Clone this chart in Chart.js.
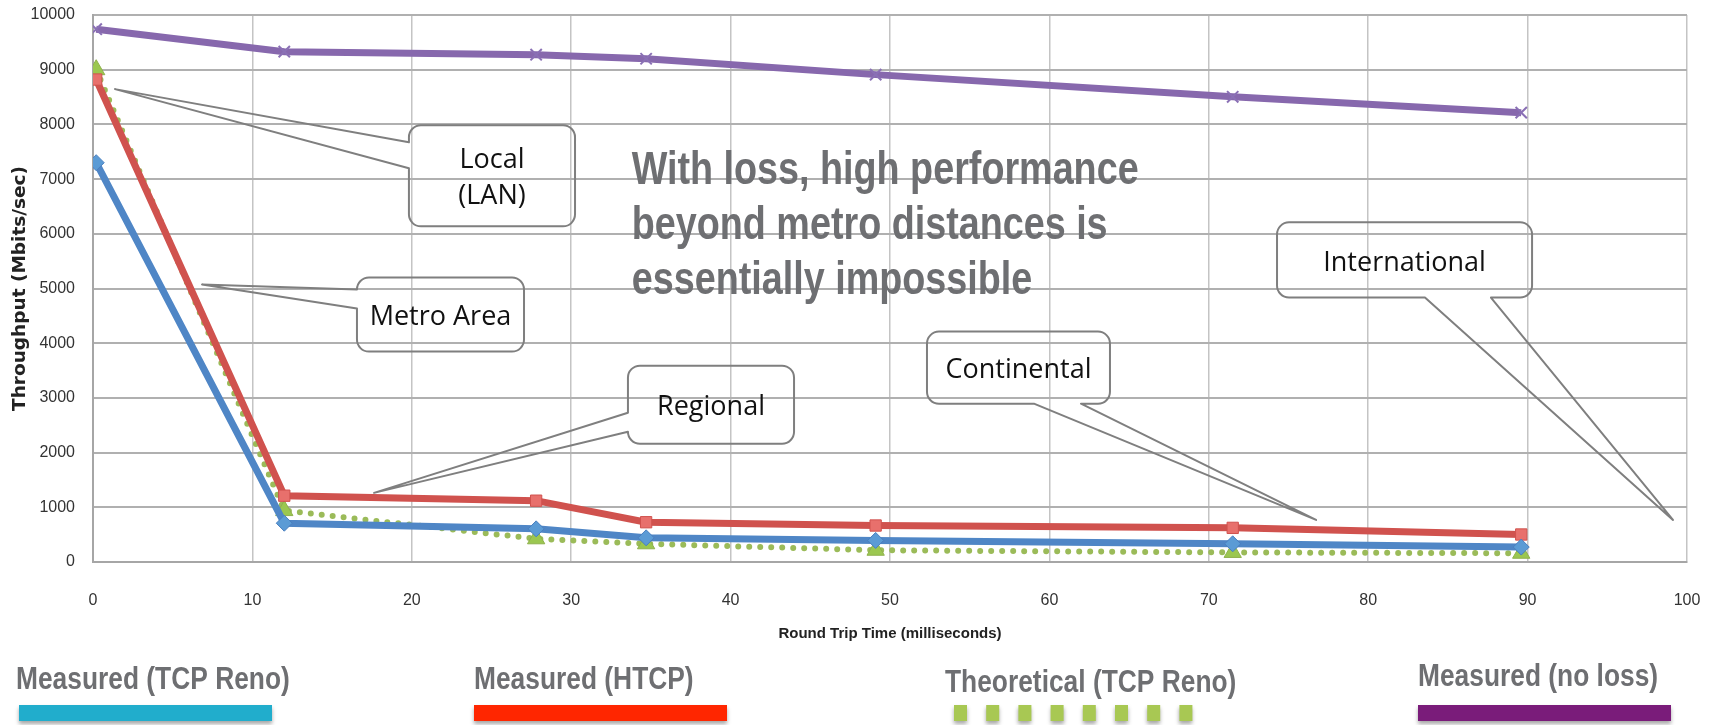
<!DOCTYPE html>
<html><head><meta charset="utf-8">
<script src="https://cdn.jsdelivr.net/npm/chart.js@4/dist/chart.umd.min.js"></script>
<style>html,body{margin:0;padding:0;background:#fff;overflow:hidden}#wrap{position:relative;width:1719px;height:725px}</style>
</head><body><div id="wrap"><canvas id="c" width="1719" height="725"></canvas></div>
<script>
// ---- data ----
const rttMs = [0.2, 12, 27.8, 34.7, 49.1, 71.5, 89.6];
const renoMeasured = [7300, 709, 606, 442, 394, 333, 273];
const htcpMeasured = [8820, 1212, 1121, 727, 667, 624, 503];
const renoTheoretical = [9000, 940, 424, 333, 215, 175, 160];
const noLossMeasured = [9740, 9330, 9274, 9200, 8910, 8505, 8215];
const seriesNames = ['Measured (TCP Reno)', 'Measured (HTCP)', 'Theoretical (TCP Reno)', 'Measured (no loss)'];
const xTickValues = [0, 10, 20, 30, 40, 50, 60, 70, 80, 90, 100];
const yTickValues = [0, 1000, 2000, 3000, 4000, 5000, 6000, 7000, 8000, 9000, 10000];
const xTitle = 'Round Trip Time (milliseconds)';
const yTitle = 'Throughput (Mbits/sec)';
const noteLines = ['With loss, high performance', 'beyond metro distances is', 'essentially impossible'];
// callouts (in data units: box x1,yTop,x2,yBottom; tip; two attach points; side)
const calloutText = [['Local', '(LAN)'], ['Metro Area'], ['Regional'], ['Continental'], ['International']];
const calloutBox = [[19.82, 7985, 30.24, 6136], [16.56, 5201, 27.04, 3846], [33.56, 3590, 43.98, 2161], [52.32, 4212, 63.8, 2894], [74.28, 6209, 90.28, 4835]];
const calloutTip = [[1.38, 8645], [6.84, 5073], [17.63, 1264], [76.73, 769], [99.12, 769]];
const calloutAttach = [[7674, 7198], [4982, 4634], [2729, 2381], [59.03, 61.98], [83.56, 87.7]];
const calloutSide = ['left', 'left', 'left', 'bottom', 'bottom'];

// ---- styles ----
const lineColors = ['#4f86c6', '#d0524e', '#9bbb59', '#8768ad'];
const legendColors = ['#21adcc', '#ff2600', '#a8c853', '#7a1c7a'];
const legendX = [16, 474, 945, 1418];
const legendBase = [689, 689, 692, 686];
const GRAY_TEXT = '#6e6f72';

const pts = vals => rttMs.map((x, i) => ({x, y: vals[i]}));

const overlay = {
  id: 'overlay',
  afterDatasetsDraw(chart) {
    const {ctx, scales: {x, y}} = chart;
    ctx.save();
    // big note text
    ctx.fillStyle = GRAY_TEXT;
    ctx.font = 'bold 46px "Liberation Sans", Arial, sans-serif';
    ctx.textBaseline = 'alphabetic';
    const nx = x.getPixelForValue(33.8), ny = y.getPixelForValue(6905);
    noteLines.forEach((t, i) => {
      ctx.save(); ctx.translate(nx, ny + i * 55); ctx.scale(0.82, 1); ctx.fillText(t, 0, 0); ctx.restore();
    });
    // callouts
    ctx.strokeStyle = '#7f7f7f'; ctx.lineWidth = 2; ctx.lineJoin = 'round';
    calloutBox.forEach((b, i) => {
      const x1 = x.getPixelForValue(b[0]), y1 = y.getPixelForValue(b[1]);
      const x2 = x.getPixelForValue(b[2]), y2 = y.getPixelForValue(b[3]);
      const tx = x.getPixelForValue(calloutTip[i][0]), ty = y.getPixelForValue(calloutTip[i][1]);
      const a = calloutAttach[i], r = 12;
      ctx.beginPath();
      ctx.moveTo(x1 + r, y1);
      ctx.lineTo(x2 - r, y1); ctx.arcTo(x2, y1, x2, y1 + r, r);
      ctx.lineTo(x2, y2 - r); ctx.arcTo(x2, y2, x2 - r, y2, r);
      if (calloutSide[i] === 'bottom') {
        const ax1 = x.getPixelForValue(a[0]), ax2 = x.getPixelForValue(a[1]);
        ctx.lineTo(ax2, y2); ctx.lineTo(tx, ty); ctx.lineTo(ax1, y2);
      }
      ctx.lineTo(x1 + r, y2); ctx.arcTo(x1, y2, x1, y2 - r, r);
      if (calloutSide[i] === 'left') {
        const ay1 = y.getPixelForValue(a[0]), ay2 = y.getPixelForValue(a[1]);
        ctx.lineTo(x1, Math.min(ay2, y2 - r)); ctx.lineTo(tx, ty); ctx.lineTo(x1, ay1);
      }
      ctx.lineTo(x1, y1 + r); ctx.arcTo(x1, y1, x1 + r, y1, r);
      ctx.closePath();
      ctx.stroke();
      // text
      ctx.fillStyle = '#111';
      ctx.font = '27px "Open Sans", sans-serif';
      ctx.textAlign = 'center'; ctx.textBaseline = 'middle';
      const lines = calloutText[i];
      const cx = (x1 + x2) / 2, cy = (y1 + y2) / 2 + 3;
      const lh = 36;
      lines.forEach((t, k) => ctx.fillText(t, cx, cy + (k - (lines.length - 1) / 2) * lh));
    });
    ctx.restore();
  },
  afterDraw(chart) {
    const ctx = chart.ctx;
    ctx.save();
    seriesNames.forEach((name, i) => {
      ctx.fillStyle = GRAY_TEXT;
      ctx.font = 'bold 31px "Liberation Sans", Arial, sans-serif';
      ctx.textAlign = 'left'; ctx.textBaseline = 'alphabetic';
      ctx.save(); ctx.translate(legendX[i], legendBase[i]); ctx.scale(0.85, 1); ctx.fillText(name, 0, 0); ctx.restore();
      ctx.save();
      ctx.shadowColor = 'rgba(0,0,0,0.35)'; ctx.shadowOffsetY = 3; ctx.shadowBlur = 4;
      ctx.fillStyle = legendColors[i];
      const sx = legendX[i] + (i === 0 ? 3 : 0);
      if (i === 2) {
        for (let k = 0; k < 8; k++) ctx.fillRect(legendX[i] + 9 + k * 32.2, 705, 13, 16);
      } else {
        ctx.fillRect(sx, 705, 253, 16);
      }
      ctx.restore();
    });
    ctx.restore();
  }
};

const tickFont = {family: '"Liberation Sans", Arial, sans-serif', size: 16};

new Chart(document.getElementById('c'), {
  type: 'line',
  data: {
    datasets: [
      {label: seriesNames[0], data: pts(renoMeasured), borderColor: lineColors[0], backgroundColor: '#5b9bd5',
       borderWidth: 7, pointStyle: 'rectRot', pointRadius: 8, pointBorderWidth: 1, pointBorderColor: '#4a7fbf'},
      {label: seriesNames[1], data: pts(htcpMeasured), borderColor: lineColors[1], backgroundColor: '#e8706c',
       borderWidth: 7, pointStyle: 'rect', pointRadius: 8, pointBorderWidth: 1, pointBorderColor: '#d0524e'},
      {label: seriesNames[2], data: pts(renoTheoretical), borderColor: lineColors[2], backgroundColor: '#9bc750',
       borderWidth: 6, borderDash: [0, 11], borderCapStyle: 'round', pointStyle: 'triangle', pointRadius: 10,
       pointBorderWidth: 1, pointBorderColor: '#8fb14c'},
      {label: seriesNames[3], data: pts(noLossMeasured), borderColor: lineColors[3], backgroundColor: '#8768ad',
       borderWidth: 7, pointStyle: 'crossRot', pointRadius: 8, pointBorderWidth: 2, pointBorderColor: '#8a70b5'}
    ]
  },
  options: {
    responsive: false,
    animation: false,
    devicePixelRatio: 1,
    layout: {padding: {top: 15, right: 32, left: 0, bottom: 0}},
    plugins: {legend: {display: false}, tooltip: {enabled: false}},
    elements: {line: {tension: 0}},
    scales: {
      x: {
        type: 'linear', min: 0, max: 100,
        afterBuildTicks: s => { s.ticks = xTickValues.map(v => ({value: v})); },
        afterFit: s => { s.height = 163; s.paddingLeft = 0; s.paddingRight = 0; },
        ticks: {font: tickFont, color: '#333', padding: 29, maxRotation: 0, callback: v => String(v)},
        grid: {color: '#c4c4c4', lineWidth: 1.5, drawTicks: false},
        border: {color: '#a6a6a6', width: 2},
        title: {display: true, text: xTitle, color: '#222',
          font: {family: '"Liberation Sans", Arial, sans-serif', size: 15, weight: 'bold'},
          padding: {top: 0, bottom: 82}}
      },
      y: {
        min: 0, max: 10000,
        afterBuildTicks: s => { s.ticks = yTickValues.map(v => ({value: v})); },
        afterFit: s => { s.width = 93; s.paddingTop = 0; s.paddingBottom = 0; },
        ticks: {font: tickFont, color: '#333', padding: 18, callback: v => String(v)},
        grid: {color: '#b0b0b0', lineWidth: 2, drawTicks: false},
        border: {color: '#a6a6a6', width: 2},
        title: {display: true, text: yTitle, color: '#222',
          font: {family: '"DejaVu Sans", sans-serif', size: 18.5, weight: 'bold'},
          padding: {top: 9, bottom: 0}}
      }
    }
  },
  plugins: [overlay]
});
</script></body></html>
